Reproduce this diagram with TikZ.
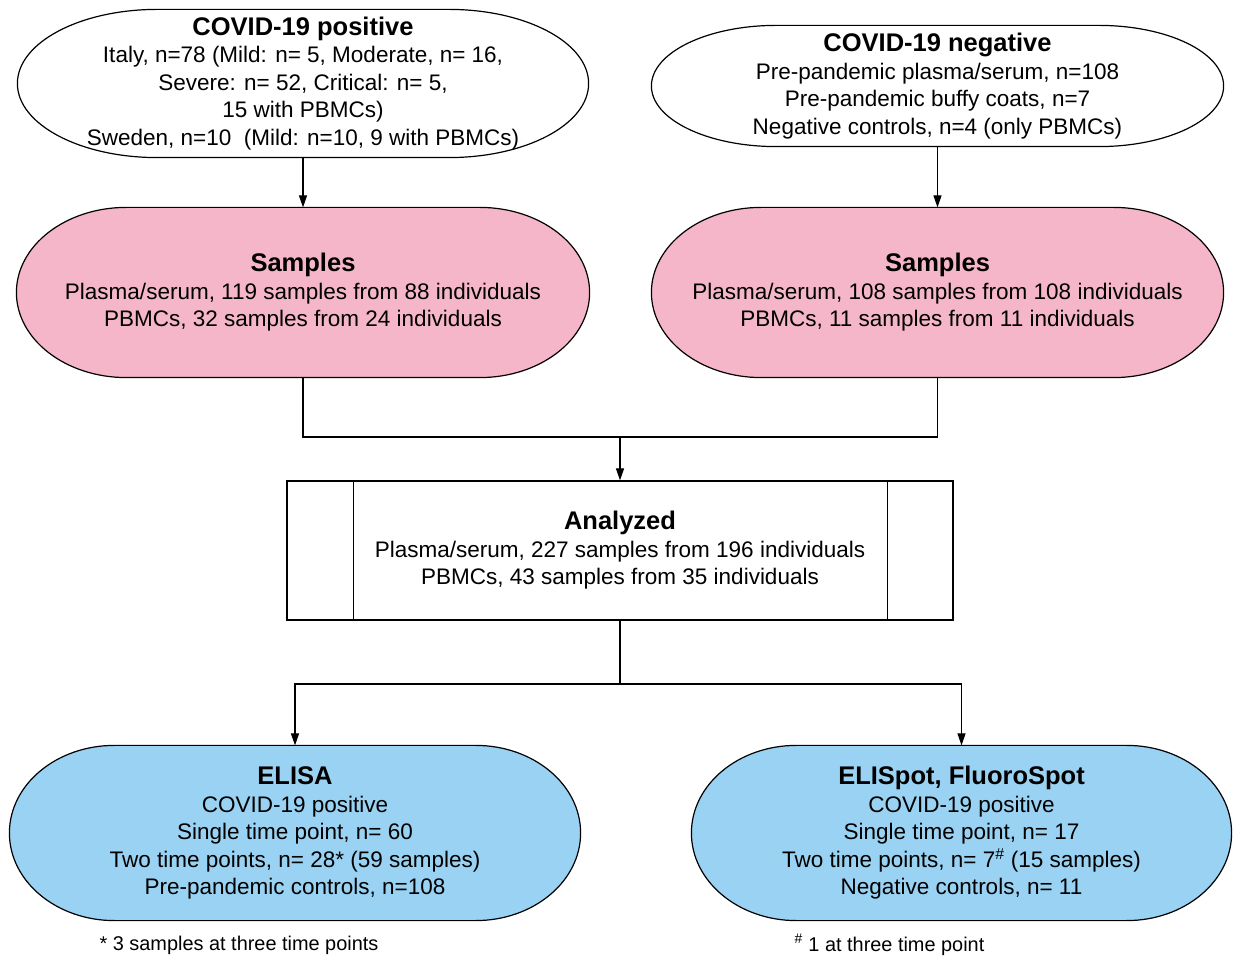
\documentclass[tikz,border=0pt]{standalone}
\usepackage{fontspec}
\setmainfont{Liberation Sans}
\usetikzlibrary{arrows.meta,calc,backgrounds}
\definecolor{pinkfill}{RGB}{244,182,200}
\definecolor{bluefill}{RGB}{153,210,242}
\newcommand{\boxtitle}[1]{{\fontsize{25.5}{29}\selectfont\bfseries #1}}
\tikzset{
  box/.style={rectangle, inner sep=0pt, align=center, font=\fontsize{22.5}{27.5}\selectfont},
  note/.style={inner sep=0pt, font=\fontsize{19.9}{24}\selectfont},
  arr/.style={-{Triangle[length=12pt,width=8pt]}},
}
\begin{document}
\begin{tikzpicture}[x=1pt, y=1pt, line width=1.2pt]
\useasboundingbox (0,0) rectangle (1233,958);

\node (pos) [box, minimum width=570, minimum height=147] at (303,874.5) {\boxtitle{COVID-19 positive}\\Italy, n=78 (Mild: n= 5, Moderate, n= 16,\\Severe: n= 52, Critical: n= 5,\\15 with PBMCs)\\Sweden, n=10\ \ (Mild: n=10, 9 with PBMCs)};
\node (neg) [box, minimum width=571, minimum height=120] at (937.5,872) {\boxtitle{COVID-19 negative}\\Pre-pandemic plasma/serum, n=108\\Pre-pandemic buffy coats, n=7\\Negative controls, n=4 (only PBMCs)};

\node (sampL) [box, minimum width=572, minimum height=169] at (303,665.5) {\boxtitle{Samples}\\Plasma/serum, 119 samples from 88 individuals\\PBMCs, 32 samples from 24 individuals};
\node (sampR) [box, minimum width=571, minimum height=169] at (937.5,665.5) {\boxtitle{Samples}\\Plasma/serum, 108 samples from 108 individuals\\PBMCs, 11 samples from 11 individuals};

\node (anal) [box, draw, minimum width=666, minimum height=139] at (620,407.5) {\boxtitle{Analyzed}\\Plasma/serum, 227 samples from 196 individuals\\PBMCs, 43 samples from 35 individuals};
\draw ([xshift=67]anal.north west) -- ([xshift=67]anal.south west);
\draw ([xshift=-66]anal.north east) -- ([xshift=-66]anal.south east);

\node (elisa) [box, minimum width=570, minimum height=174] at (295,125) {\boxtitle{ELISA}\\COVID-19 positive\\Single time point, n= 60\\Two time points, n= 28* (59 samples)\\Pre-pandemic controls, n=108};
\node (spot) [box, minimum width=539, minimum height=174] at (961.5,125) {\boxtitle{ELISpot, FluoroSpot}\\COVID-19 positive\\Single time point, n= 17\\Two time points, n= 7\textsuperscript{\#} (15 samples)\\Negative controls, n= 11};

\node (foot1) [note] at (239,13) {* 3 samples at three time points};
\node (foot2) [note] at (889.5,13) {\textsuperscript{\#} 1 at three time point};

% rounded outlines behind the texts
\begin{scope}[on background layer]
  \foreach \nm/\rx/\col in {pos/140/white, neg/125/white, sampL/110/pinkfill, sampR/110/pinkfill, elisa/105/bluefill, spot/105/bluefill}{
    \draw[fill=\col, line width=1.2pt] let \p1=(\nm.north west), \p2=(\nm.south east), \n1={(\y1-\y2)/2} in
      (\x1,\y2+\n1) arc[start angle=180, end angle=90, x radius=\rx pt, y radius=\n1]
      -- (\x2-\rx pt,\y1) arc[start angle=90, end angle=-90, x radius=\rx pt, y radius=\n1]
      -- (\x1+\rx pt,\y2) arc[start angle=270, end angle=180, x radius=\rx pt, y radius=\n1] -- cycle;
  }
\end{scope}

\coordinate (join) at (620,521);
\coordinate (split) at (620,274);

\draw[arr] (pos.south) -- (sampL.north);
\draw[arr] (neg.south) -- (sampR.north);
\draw (sampL.south) |- (join) -| (sampR.south);
\draw[arr] (join) -- (anal.north);
\draw (anal.south) -- (split);
\draw[arr] (split) -| (elisa.north);
\draw[arr] (split) -| (spot.north);

\end{tikzpicture}
\end{document}
